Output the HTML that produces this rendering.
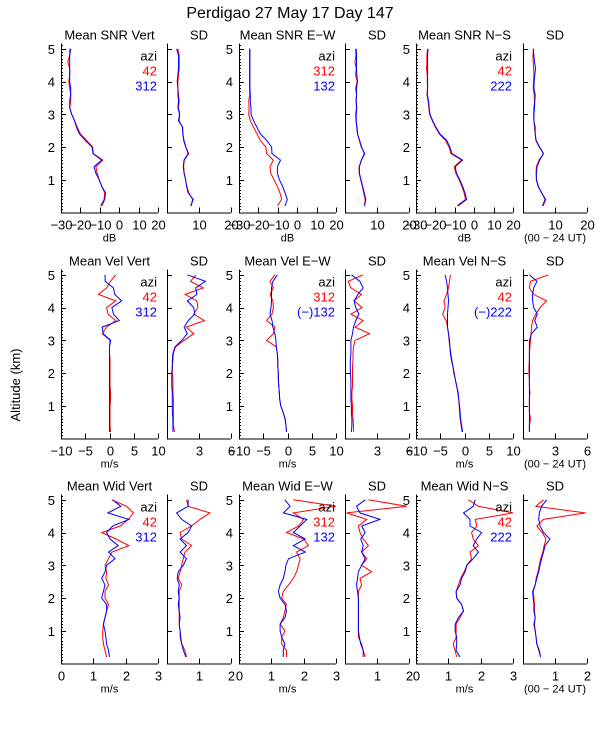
<!DOCTYPE html>
<html><head><meta charset="utf-8"><style>
html,body{margin:0;padding:0;background:#fff;}
svg{display:block;font-family:"Liberation Sans",sans-serif;}
</style></head><body>
<svg id="chart" width="600" height="750" viewBox="0 0 600 750" xmlns="http://www.w3.org/2000/svg">
<rect width="600" height="750" fill="#fff"/>
<text x="290" y="18" font-size="16" text-anchor="middle">Perdigao  27 May 17 Day 147</text>
<text x="20" y="385" font-size="13" text-anchor="middle" transform="rotate(-90 20 385)">Altitude (km)</text>
<g id="plots"></g>
</svg>
<script>
const altitudes = [0.2,0.4,0.6,0.8,1.0,1.2,1.4,1.6,1.8,2.0,2.2,2.4,2.6,2.8,3.0,3.2,3.4,3.6,3.8,4.0,4.2,4.4,4.6,4.8,5.0];
const snrVert42 = [-9.6,-7.8,-7.5,-9,-10.3,-11.4,-12,-8.5,-13.3,-13.7,-16.8,-20,-21.6,-23,-24.5,-25.5,-25,-25,-25.5,-26,-25.5,-25.5,-26.5,-25.5,-25.5];
const snrVert312 = [-9,-7.5,-7,-9,-10.3,-12,-13,-9,-13.5,-14,-17.5,-20.5,-22,-23,-24.5,-25.5,-25.5,-25,-25,-25.5,-25.5,-25.5,-25.5,-25.5,-25];
const sdSnrVert42 = [7.6,8.0,6.8,6.2,5.8,5.4,5.2,5.4,6.8,5.8,5.2,5.0,4.8,3.8,4.0,3.6,3.8,3.6,3.4,3.4,3.6,3.8,3.8,3.8,3.4];
const sdSnrVert312 = [7.4,8.2,6.6,6.1,5.8,5.3,5.1,5.3,6.6,5.9,5.3,4.9,4.9,3.6,3.9,3.4,3.6,3.4,3.4,3.2,3.4,3.6,3.6,3.6,3.0];
const snrEW312 = [-10.2,-8,-8.9,-10.2,-11.9,-13.6,-14,-12.3,-15.7,-16.2,-19,-20.7,-22.5,-24.2,-25,-24.8,-25,-24.5,-24.6,-24.6,-24.6,-24.6,-24.6,-24.6,-24.6];
const snrEW132 = [-6.3,-5.1,-6.3,-7.5,-9.2,-10.2,-10.2,-8.6,-13,-13.2,-15.7,-19,-20.7,-22.5,-23.8,-23.8,-24.2,-24.2,-24.4,-24.4,-24.4,-24.4,-24.4,-24.4,-24.4];
const sdSnrEW312 = [6.1,6.3,5.8,5.4,4.9,4.4,4.4,5.2,6.0,5.2,4.6,3.9,3.8,3.4,3.3,3.6,3.4,3.6,3.3,3.8,3.3,3.5,3.1,3.4,3.3];
const sdSnrEW132 = [6.1,6.5,6.0,5.5,5.0,4.5,4.5,5.1,6.2,5.1,4.5,3.9,3.7,3.5,3.5,3.7,3.5,3.6,3.6,3.9,3.7,3.6,3.6,3.6,3.5];
const snrNS42 = [-8.8,-4.5,-5.2,-6.4,-7.8,-9.5,-10.3,-6.5,-12,-13,-14.8,-18,-20,-21.6,-23,-23.4,-23.7,-24.4,-24,-24.2,-24.2,-24.6,-24.4,-24.4,-24];
const snrNS222 = [-8.2,-3.9,-4.8,-6,-7.4,-9.1,-9.8,-6,-11.5,-12.5,-14.2,-17.7,-19.7,-21.4,-22.8,-23.2,-23.5,-24.2,-24,-24,-24,-24,-24,-24,-23.8];
const sdSnrNS42 = [6.3,7.1,5.8,4.7,4.2,4.1,4.2,5.0,6.4,5.1,4.0,3.8,3.6,3.4,3.3,3.4,3.6,3.5,3.2,3.3,3.4,3.3,3.2,3.1,3.3];
const sdSnrNS222 = [6.1,6.9,5.8,4.8,4.2,4.2,4.4,5.2,6.4,5.2,4.1,3.8,3.8,3.4,3.4,3.6,3.7,3.8,3.4,3.5,3.7,3.9,3.6,3.4,3.2];
const velVert42 = [0.2,0.1,0.1,0.1,0.1,0.2,0.2,0.1,0.1,0.1,0.1,0.1,0,0,0.1,-1.5,-0.6,1.3,-0.3,-0.6,1.3,-2.3,-0.6,0.2,1.3];
const velVert312 = [0,0,0,0,0,0,0,0,0,0,0,0,0,0,0.25,-1.3,-1.5,2.0,0.8,0.5,2.5,1.1,0.8,-0.9,-0.9];
const sdVelVert42 = [0.7,0.6,0.6,0.6,0.6,0.6,0.55,0.55,0.55,0.5,0.5,0.55,0.6,0.8,1.6,2.5,1.8,3.5,2.5,2.9,2.8,1.7,3.4,2.2,2.7];
const sdVelVert312 = [0.55,0.55,0.55,0.5,0.5,0.5,0.5,0.45,0.45,0.45,0.5,0.5,0.55,0.75,1.4,1.9,1.6,2.0,2.6,2.5,1.9,2.8,2.7,3.6,1.9];
const velEW312 = [-0.2,-0.3,-0.5,-0.9,-1.4,-1.6,-1.7,-1.8,-1.9,-1.9,-2.0,-2.0,-2.1,-2.3,-4.3,-2.9,-2.6,-4.3,-3.2,-2.9,-3.0,-3.6,-2.9,-3.6,-2.6];
const velEW132 = [-0.2,-0.3,-0.5,-0.9,-1.4,-1.6,-1.7,-1.8,-1.9,-1.9,-2.0,-2.0,-2.1,-2.3,-2.4,-2.6,-3.0,-3.2,-3.6,-3.4,-3.3,-3.3,-3.3,-3.0,-2.1];
const sdVelEW312 = [0.8,0.8,0.75,0.7,0.7,0.65,0.65,0.7,0.7,0.7,0.7,0.75,0.75,0.8,0.95,2.3,0.95,1.7,0.55,1.6,0.85,1.55,0.55,0.3,1.7];
const sdVelEW132 = [0.6,0.65,0.65,0.6,0.6,0.55,0.55,0.55,0.55,0.5,0.5,0.5,0.55,0.55,0.55,0.7,0.8,1.0,1.3,1.0,0.85,1.2,1.7,1.4,0.6];
const velNS42 = [-0.5,-0.7,-0.9,-1.0,-1.1,-1.2,-1.4,-1.6,-1.9,-2.1,-2.4,-2.6,-2.8,-3.0,-3.2,-3.3,-3.5,-3.8,-4.5,-4.0,-4.2,-3.7,-3.3,-3.1,-2.9];
const velNS222 = [-0.4,-0.6,-0.8,-0.9,-1.0,-1.2,-1.3,-1.6,-1.9,-2.2,-2.4,-2.7,-2.9,-3.0,-3.1,-3.3,-3.5,-3.5,-3.5,-3.4,-3.3,-3.4,-3.5,-3.7,-4.0];
const sdVelNS42 = [0.6,0.6,0.7,0.6,0.6,0.6,0.65,0.6,0.6,0.55,0.55,0.6,0.6,0.65,0.7,0.75,0.8,0.9,1.2,1.6,2.2,1.0,0.6,0.7,2.4];
const sdVelNS222 = [0.6,0.6,0.6,0.6,0.6,0.6,0.6,0.6,0.6,0.6,0.6,0.6,0.6,0.6,0.6,0.8,1.34,1.1,1.34,1.0,0.9,0.9,1.0,1.3,0.6];
const widVert42 = [1.41,1.36,1.31,1.29,1.29,1.31,1.36,1.41,1.47,1.36,1.36,1.47,1.39,1.41,1.36,1.47,1.57,2.1,1.7,1.26,1.83,2.08,2.24,2.03,1.57];
const widVert312 = [1.5,1.47,1.41,1.39,1.36,1.31,1.36,1.41,1.41,1.26,1.31,1.36,1.26,1.36,1.41,1.67,1.47,1.77,1.52,1.41,1.6,2.1,1.45,1.85,1.6];
const sdWidVert42 = [0.61,0.56,0.46,0.41,0.41,0.38,0.38,0.38,0.38,0.38,0.38,0.46,0.35,0.41,0.46,0.51,0.56,0.77,0.46,0.41,0.77,1.03,1.34,0.66,0.61];
const sdWidVert312 = [0.59,0.51,0.46,0.43,0.41,0.38,0.41,0.38,0.35,0.38,0.35,0.38,0.32,0.35,0.51,0.61,0.41,0.61,0.41,0.66,0.77,0.46,0.3,0.66,0.66];
const widEW312 = [1.47,1.47,1.32,1.32,1.42,1.27,1.37,1.42,1.47,1.32,1.37,1.53,1.68,1.78,1.84,1.89,1.78,2.15,2.0,1.47,1.84,2.0,1.68,3.0,1.68];
const widEW132 = [1.37,1.37,1.42,1.32,1.27,1.27,1.42,1.47,1.42,1.27,1.22,1.27,1.37,1.42,1.45,1.53,2.05,1.68,2.05,1.68,1.89,2.1,1.37,1.58,1.42];
const sdWidEW312 = [0.63,0.57,0.52,0.42,0.42,0.42,0.42,0.42,0.42,0.42,0.42,0.52,0.47,0.83,0.52,0.68,0.52,0.73,0.57,0.47,0.42,0.68,0.05,1.93,0.73];
const sdWidEW132 = [0.57,0.57,0.49,0.45,0.42,0.42,0.42,0.42,0.42,0.42,0.39,0.36,0.39,0.42,0.52,0.63,0.52,0.57,0.49,0.63,0.52,1.09,0.47,0.36,0.63];
const widNS42 = [1.26,1.21,1.15,1.24,1.24,1.24,1.36,1.47,1.41,1.26,1.24,1.31,1.38,1.49,1.57,1.72,1.67,1.93,1.77,1.72,1.88,1.83,3.0,1.93,1.62];
const widNS222 = [1.36,1.24,1.26,1.26,1.21,1.21,1.31,1.47,1.41,1.26,1.24,1.36,1.41,1.52,1.57,1.77,1.93,1.77,1.88,2.03,1.67,1.67,1.47,1.77,1.83];
const sdWidNS42 = [0.55,0.49,0.43,0.41,0.38,0.36,0.38,0.36,0.36,0.34,0.32,0.38,0.41,0.47,0.51,0.55,0.62,0.66,0.72,0.6,0.43,0.64,1.95,0.4,0.64];
const sdWidNS222 = [0.55,0.51,0.43,0.41,0.38,0.34,0.38,0.34,0.34,0.32,0.3,0.38,0.43,0.49,0.53,0.58,0.64,0.69,0.84,0.64,0.53,0.49,0.51,0.58,0.74];

const snrTicks = [-30,-20,-10,0,10,20];
const sdSnrTicks = [10,20];
const velTicks = [-10,-5,0,5,10];
const sdVelTicks = [3,6];
const widTicks = [0,1,2,3];
const sdWidTicks = [1,2];
const altTicks = [1,2,3,4,5];

const NS = "http://www.w3.org/2000/svg";
const root = document.getElementById('plots');
function mk(tag, attrs, parent, text){
  const e = document.createElementNS(NS, tag);
  for (const k in attrs) e.setAttribute(k, attrs[k]);
  if (text !== undefined) e.textContent = text;
  (parent || root).appendChild(e);
  return e;
}
const rowBottoms = [212.5, 438.5, 663.5];
const kmPx = 32.75, axisH = 169;
const meanX = [[61,158],[239,336],[416,513]];
const sdX = [[167,231],[345,409],[523,587]];

function yScale(row, alt){ return rowBottoms[row] - alt*kmPx; }

function drawPanel(row, x0, x1, dom, ticks, title, series, isMean, unit, legend, panelName){
  const g = mk('g', {});
  
  
  const yb = rowBottoms[row], yt = yb - axisH;
  const xs = v => x0 + (v - dom[0]) / (dom[1] - dom[0]) * (x1 - x0);
  const ax = mk('path', {d:`M${x0+0.5},${yt}V${yb+0.5}H${x1}`, stroke:'#000', fill:'none', 'stroke-width':1}, g);
  
  
  // y ticks
  altTicks.forEach(a => { const y = Math.round(yScale(row,a))+0.5; mk('line',{x1:x0,x2:x0+5,y1:y,y2:y,stroke:'#000'},g); });
  if (isMean){
    for (let i=1;i<=51;i++){ if(i%10===0) continue; const y=Math.round(yScale(row,i/10))+0.5; mk('line',{x1:x0,x2:x0+2,y1:y,y2:y,stroke:'#000'},g); }
    altTicks.forEach(a => {
      const t = mk('text',{x:x0-6,y:yScale(row,a)+5,'font-size':13,'text-anchor':'end'},g,String(a));
      
      
    });
  }
  // x ticks
  ticks.forEach(v => {
    const x = Math.round(xs(v))+0.5;
    mk('line',{x1:x,x2:x,y1:yb,y2:yb-5,stroke:'#000'},g);
    const t = mk('text',{x:x,y:yb+17,'font-size':13,'text-anchor':'middle'},g,String(v).replace('-','\u2212'));
    
    
  });
  const tt = mk('text',{x:(x0+x1)/2,y:yt-4,'font-size':13,'text-anchor':'middle'},g,title);
  
  
  if (unit){
    const u = mk('text',{x:(x0+x1)/2,y:yb+29,'font-size':11,'text-anchor':'middle'},g,unit);
    
    
  }
  series.forEach(s => {
    const d = s.vals.map((v,i)=>(i?'L':'M')+xs(Math.max(dom[0],Math.min(dom[1],v))).toFixed(1)+','+yScale(row,altitudes[i]).toFixed(1)).join('');
    const p = mk('path',{d:d,stroke:s.color,fill:'none','stroke-width':1},g);
    
    
  });
  if (legend){
    legend.forEach((l,i) => {
      const t = mk('text',{x:x1-1,y:yt+17+i*15,'font-size':13,'text-anchor':'end',fill:l.color},g,l.text);
      
      
    });
  }
}
const R='#ff0000', B='#0000ff', K='#000';
// Row 1 SNR
drawPanel(0,...meanX[0],[-30,20],snrTicks,'Mean SNR Vert',[{vals:snrVert42,color:R,name:'snr-vert-42-line'},{vals:snrVert312,color:B,name:'snr-vert-312-line'}],true,'dB',[{text:'azi',color:K},{text:'42',color:R},{text:'312',color:B}],'panel-snr-vert');
drawPanel(0,...sdX[0],[0,20],sdSnrTicks,'SD',[{vals:sdSnrVert42,color:R,name:'sd-snr-vert-42-line'},{vals:sdSnrVert312,color:B,name:'sd-snr-vert-312-line'}],false,null,null,'panel-sd-snr-vert');
drawPanel(0,...meanX[1],[-30,20],snrTicks,'Mean SNR E\u2212W',[{vals:snrEW312,color:R,name:'snr-ew-312-line'},{vals:snrEW132,color:B,name:'snr-ew-132-line'}],true,'dB',[{text:'azi',color:K},{text:'312',color:R},{text:'132',color:B}],'panel-snr-ew');
drawPanel(0,...sdX[1],[0,20],sdSnrTicks,'SD',[{vals:sdSnrEW312,color:R,name:'sd-snr-ew-312-line'},{vals:sdSnrEW132,color:B,name:'sd-snr-ew-132-line'}],false,null,null,'panel-sd-snr-ew');
drawPanel(0,...meanX[2],[-30,20],snrTicks,'Mean SNR N\u2212S',[{vals:snrNS42,color:R,name:'snr-ns-42-line'},{vals:snrNS222,color:B,name:'snr-ns-222-line'}],true,'dB',[{text:'azi',color:K},{text:'42',color:R},{text:'222',color:B}],'panel-snr-ns');
drawPanel(0,...sdX[2],[0,20],sdSnrTicks,'SD',[{vals:sdSnrNS42,color:R,name:'sd-snr-ns-42-line'},{vals:sdSnrNS222,color:B,name:'sd-snr-ns-222-line'}],false,'(00 \u2212 24 UT)',null,'panel-sd-snr-ns');
// Row 2 Vel
drawPanel(1,...meanX[0],[-10,10],velTicks,'Mean Vel Vert',[{vals:velVert42,color:R,name:'vel-vert-42-line'},{vals:velVert312,color:B,name:'vel-vert-312-line'}],true,'m/s',[{text:'azi',color:K},{text:'42',color:R},{text:'312',color:B}],'panel-vel-vert');
drawPanel(1,...sdX[0],[0,6],sdVelTicks,'SD',[{vals:sdVelVert42,color:R,name:'sd-vel-vert-42-line'},{vals:sdVelVert312,color:B,name:'sd-vel-vert-312-line'}],false,null,null,'panel-sd-vel-vert');
drawPanel(1,...meanX[1],[-10,10],velTicks,'Mean Vel E\u2212W',[{vals:velEW312,color:R,name:'vel-ew-312-line'},{vals:velEW132,color:B,name:'vel-ew-132-line'}],true,'m/s',[{text:'azi',color:K},{text:'312',color:R},{text:'(\u2212)132',color:B}],'panel-vel-ew');
drawPanel(1,...sdX[1],[0,6],sdVelTicks,'SD',[{vals:sdVelEW312,color:R,name:'sd-vel-ew-312-line'},{vals:sdVelEW132,color:B,name:'sd-vel-ew-132-line'}],false,null,null,'panel-sd-vel-ew');
drawPanel(1,...meanX[2],[-10,10],velTicks,'Mean Vel N\u2212S',[{vals:velNS42,color:R,name:'vel-ns-42-line'},{vals:velNS222,color:B,name:'vel-ns-222-line'}],true,'m/s',[{text:'azi',color:K},{text:'42',color:R},{text:'(\u2212)222',color:B}],'panel-vel-ns');
drawPanel(1,...sdX[2],[0,6],sdVelTicks,'SD',[{vals:sdVelNS42,color:R,name:'sd-vel-ns-42-line'},{vals:sdVelNS222,color:B,name:'sd-vel-ns-222-line'}],false,'(00 \u2212 24 UT)',null,'panel-sd-vel-ns');
// Row 3 Width
drawPanel(2,...meanX[0],[0,3],widTicks,'Mean Wid Vert',[{vals:widVert42,color:R,name:'wid-vert-42-line'},{vals:widVert312,color:B,name:'wid-vert-312-line'}],true,'m/s',[{text:'azi',color:K},{text:'42',color:R},{text:'312',color:B}],'panel-wid-vert');
drawPanel(2,...sdX[0],[0,2],sdWidTicks,'SD',[{vals:sdWidVert42,color:R,name:'sd-wid-vert-42-line'},{vals:sdWidVert312,color:B,name:'sd-wid-vert-312-line'}],false,null,null,'panel-sd-wid-vert');
drawPanel(2,...meanX[1],[0,3],widTicks,'Mean Wid E\u2212W',[{vals:widEW312,color:R,name:'wid-ew-312-line'},{vals:widEW132,color:B,name:'wid-ew-132-line'}],true,'m/s',[{text:'azi',color:K},{text:'312',color:R},{text:'132',color:B}],'panel-wid-ew');
drawPanel(2,...sdX[1],[0,2],sdWidTicks,'SD',[{vals:sdWidEW312,color:R,name:'sd-wid-ew-312-line'},{vals:sdWidEW132,color:B,name:'sd-wid-ew-132-line'}],false,null,null,'panel-sd-wid-ew');
drawPanel(2,...meanX[2],[0,3],widTicks,'Mean Wid N\u2212S',[{vals:widNS42,color:R,name:'wid-ns-42-line'},{vals:widNS222,color:B,name:'wid-ns-222-line'}],true,'m/s',[{text:'azi',color:K},{text:'42',color:R},{text:'222',color:B}],'panel-wid-ns');
drawPanel(2,...sdX[2],[0,2],sdWidTicks,'SD',[{vals:sdWidNS42,color:R,name:'sd-wid-ns-42-line'},{vals:sdWidNS222,color:B,name:'sd-wid-ns-222-line'}],false,'(00 \u2212 24 UT)',null,'panel-sd-wid-ns');
</script>
</body></html>
